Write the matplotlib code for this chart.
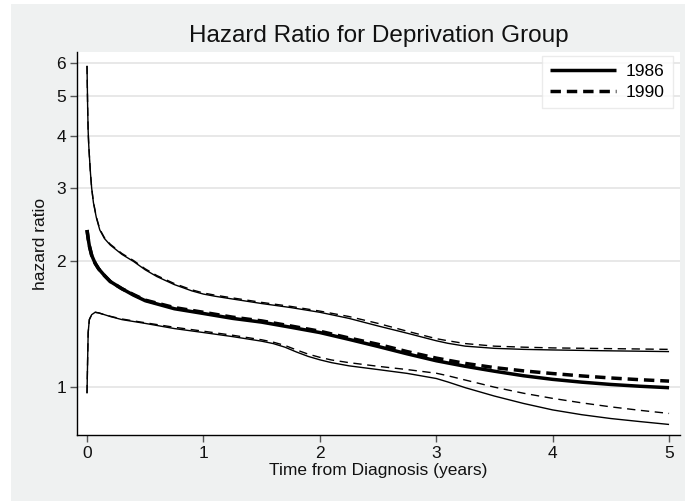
import matplotlib
matplotlib.use("Agg")
import matplotlib.pyplot as plt
from matplotlib.patches import Rectangle
from matplotlib.ticker import FixedLocator, FixedFormatter, NullLocator

plt.rcParams['font.family'] = ['Liberation Sans', 'DejaVu Sans']

# ---- data ----
x_est = [0, 0.01, 0.02, 0.04, 0.07, 0.1, 0.15, 0.2, 0.3, 0.4, 0.5, 0.75, 1.0,
         1.25, 1.5, 1.75, 2.0, 2.25, 2.5, 2.75, 3.0, 3.25, 3.5, 3.75, 4.0,
         4.25, 4.5, 4.75, 5.0]
hr_1986 = [2.38, 2.27, 2.18, 2.07, 1.98, 1.92, 1.85, 1.79, 1.72, 1.66, 1.61,
           1.54, 1.50, 1.46, 1.43, 1.39, 1.35, 1.30, 1.25, 1.20, 1.155, 1.12,
           1.09, 1.063, 1.042, 1.026, 1.013, 1.003, 0.995]
hr_1990 = [2.38, 2.27, 2.18, 2.07, 1.98, 1.92, 1.85, 1.79, 1.72, 1.665, 1.615,
           1.55, 1.51, 1.47, 1.44, 1.40, 1.36, 1.31, 1.265, 1.215, 1.172, 1.138,
           1.112, 1.092, 1.076, 1.062, 1.05, 1.04, 1.032]

x_up = [0, 0.003, 0.006, 0.01, 0.015, 0.02, 0.03, 0.04, 0.055, 0.08, 0.11,
        0.15, 0.2, 0.3, 0.4, 0.5, 0.6, 0.75, 0.9, 1.0, 1.1, 1.25, 1.5, 1.75,
        2.0, 2.25, 2.5, 2.75, 3.0, 3.1, 3.25, 3.5, 3.75, 4.0, 4.5, 5.0]
up_1986 = [5.9, 5.2, 4.6, 4.1, 3.8, 3.6, 3.25, 3.0, 2.77, 2.55, 2.38, 2.27,
           2.19, 2.08, 2.0, 1.91, 1.84, 1.76, 1.70, 1.67, 1.65, 1.625, 1.585,
           1.55, 1.51, 1.46, 1.40, 1.345, 1.29, 1.272, 1.252, 1.237, 1.23,
           1.226, 1.22, 1.215]
up_1990 = [5.9, 5.2, 4.6, 4.1, 3.8, 3.6, 3.25, 3.0, 2.78, 2.56, 2.39, 2.28,
           2.2, 2.09, 2.01, 1.92, 1.85, 1.77, 1.71, 1.68, 1.66, 1.635, 1.595,
           1.56, 1.52, 1.475, 1.42, 1.36, 1.305, 1.29, 1.27, 1.252, 1.245,
           1.24, 1.235, 1.23]

x_lo = [0, 0.005, 0.01, 0.02, 0.04, 0.07, 0.1, 0.15, 0.2, 0.3, 0.5, 0.75,
        1.0, 1.25, 1.5, 1.6, 1.7, 1.8, 1.9, 2.0, 2.1, 2.25, 2.5, 2.75, 3.0,
        3.1, 3.25, 3.5, 3.75, 4.0, 4.25, 4.5, 4.75, 5.0]
lo_1986 = [0.965, 1.15, 1.35, 1.45, 1.49, 1.51, 1.505, 1.49, 1.475, 1.45,
           1.42, 1.38, 1.35, 1.32, 1.287, 1.27, 1.245, 1.212, 1.183, 1.161,
           1.143, 1.123, 1.10, 1.077, 1.047, 1.027, 0.995, 0.95, 0.912, 0.88,
           0.857, 0.839, 0.825, 0.812]
lo_1990 = [0.965, 1.15, 1.35, 1.45, 1.49, 1.51, 1.505, 1.49, 1.477, 1.455,
           1.425, 1.39, 1.36, 1.33, 1.297, 1.28, 1.257, 1.226, 1.198, 1.177,
           1.16, 1.143, 1.12, 1.10, 1.078, 1.063, 1.038, 0.998, 0.965, 0.938,
           0.915, 0.895, 0.878, 0.863]

y_ticks = [1, 2, 3, 4, 5, 6]
x_ticks = [0, 1, 2, 3, 4, 5]
series_labels = ['1986', '1990']

# ---- figure ----
bg = '#eff1f1'
fig = plt.figure(figsize=(6.85, 5.01), dpi=100, facecolor='white')
fig.patches.append(Rectangle((11 / 685, 0), 1 - 11 / 685, 1 - 4 / 501,
                             transform=fig.transFigure, facecolor=bg,
                             edgecolor='none', zorder=-10))
ax = fig.add_axes([77 / 685, (501 - 435) / 501, 603 / 685, 383 / 501])
ax.set_facecolor('white')

ax.set_yscale('log')
ax.set_xlim(-0.086, 5.094)
ax.set_ylim(0.766, 6.37)

thin = 1.0
thick = 2.5
ax.plot(x_up, up_1986, color='black', lw=thin, solid_capstyle='butt')
ax.plot(x_up, up_1990, color='black', lw=thin, ls=(0, (6, 4)), dash_capstyle='butt')
ax.plot(x_lo, lo_1986, color='black', lw=thin, solid_capstyle='butt')
ax.plot(x_lo, lo_1990, color='black', lw=thin, ls=(0, (6, 4)), dash_capstyle='butt')
l1, = ax.plot(x_est, hr_1986, color='black', lw=thick, solid_capstyle='butt',
              label=series_labels[0])
l2, = ax.plot(x_est, hr_1990, color='black', lw=thick, ls=(0, (3.0, 1.7)),
              dash_capstyle='butt', label=series_labels[1])

ax.yaxis.set_major_locator(FixedLocator(y_ticks))
ax.yaxis.set_major_formatter(FixedFormatter([str(t) for t in y_ticks]))
ax.yaxis.set_minor_locator(NullLocator())
ax.set_xticks(x_ticks)
ax.set_xticklabels([str(t) for t in x_ticks])

ax.grid(axis='y', color='#e6e6e6', lw=1.3)
ax.set_axisbelow(True)
for s in ['top', 'right']:
    ax.spines[s].set_visible(False)
for s in ['left', 'bottom']:
    ax.spines[s].set_color('black')
    ax.spines[s].set_linewidth(1.0)
ax.tick_params(axis='both', direction='out', length=5, width=1.0,
               color='#555555', labelsize=12.5, labelcolor='#111111', pad=3)

ax.set_title('Hazard Ratio for Deprivation Group', fontsize=17.5, pad=7,
             color='#111111')
ax.set_xlabel('Time from Diagnosis (years)', fontsize=12.5, labelpad=1,
              color='#111111')
ax.set_ylabel('hazard ratio', fontsize=12.5, labelpad=6, color='#111111')

leg = ax.legend(handles=[l1, l2], loc='upper right',
                bbox_to_anchor=(0.988, 0.99), frameon=True, fancybox=False,
                fontsize=12.5, handlelength=3.8, handletextpad=0.6,
                borderpad=0.45, labelspacing=0.35, borderaxespad=0)
leg.get_frame().set_edgecolor('#e6e6e6')
leg.get_frame().set_linewidth(1.0)

fig.savefig('out.png', dpi=100, facecolor=fig.get_facecolor())
